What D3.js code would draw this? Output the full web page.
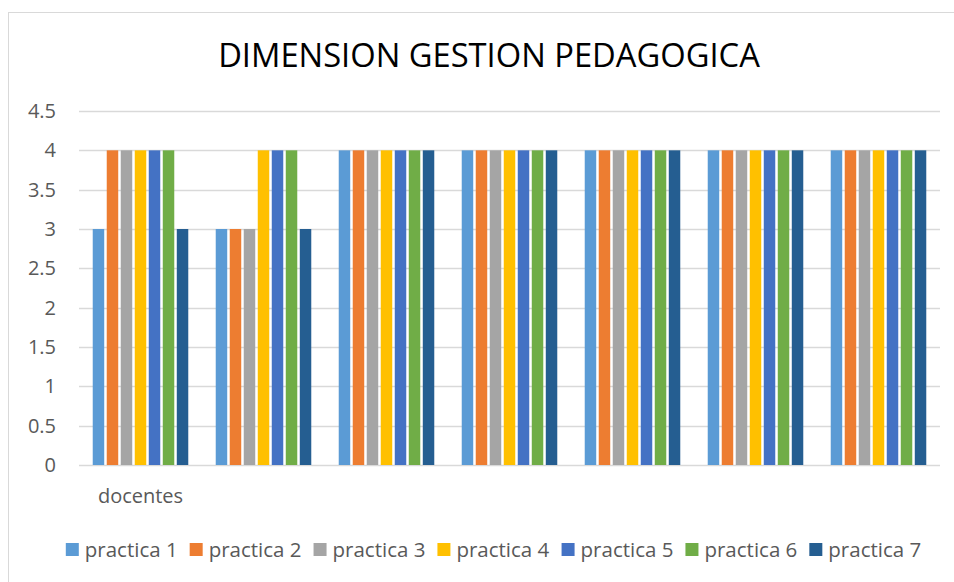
<!DOCTYPE html>
<html>
<head>
<meta charset="utf-8">
<script src="https://cdn.jsdelivr.net/npm/d3@7"></script>
<style>
  html, body { margin: 0; padding: 0; background: #fff; }
  svg { display: block; }
</style>
</head>
<body>
<svg id="chart" width="954" height="582"></svg>
<script>
// ---- data ----
const title = "DIMENSION GESTION PEDAGOGICA";
const categories = ["docentes", "", "", "", "", "", ""];
const seriesNames = ["practica 1", "practica 2", "practica 3", "practica 4", "practica 5", "practica 6", "practica 7"];
const practica1 = [3, 3, 4, 4, 4, 4, 4];
const practica2 = [4, 3, 4, 4, 4, 4, 4];
const practica3 = [4, 3, 4, 4, 4, 4, 4];
const practica4 = [4, 4, 4, 4, 4, 4, 4];
const practica5 = [4, 4, 4, 4, 4, 4, 4];
const practica6 = [4, 4, 4, 4, 4, 4, 4];
const practica7 = [3, 3, 4, 4, 4, 4, 4];
const seriesValues = [practica1, practica2, practica3, practica4, practica5, practica6, practica7];
const colors = ["#5B9BD5", "#ED7D31", "#A5A5A5", "#FFC000", "#4472C4", "#70AD47", "#255E91"];
const yTicks = [0, 0.5, 1, 1.5, 2, 2.5, 3, 3.5, 4, 4.5];

// ---- layout ----
const svg = d3.select("#chart");
const font = "'Open Sans', 'DejaVu Sans', sans-serif";
const textColor = "#595959";
const plot = { left: 79, right: 940, top: 111, bottom: 465 };

// chart border
svg.append("rect")
  .attr("x", 8.5).attr("y", 12.5)
  .attr("width", 1000).attr("height", 1000)
  .attr("fill", "#fff").attr("stroke", "#d9d9d9").attr("stroke-width", 1);

// title
svg.append("text")
  .attr("x", 489).attr("y", 67)
  .attr("text-anchor", "middle")
  .attr("font-family", font).attr("font-size", 32.7)
  .attr("fill", "#000")
  .text(title);

const y = d3.scaleLinear().domain([0, 4.5]).range([plot.bottom, plot.top]);
const x0 = d3.scaleBand().domain(d3.range(categories.length)).range([plot.left, plot.right]).padding(0);
const x1 = d3.scaleBand().domain(d3.range(seriesNames.length)).range([0, x0.bandwidth()])
  .paddingInner(0.18).paddingOuter(0.98);

// gridlines
svg.append("g").selectAll("line").data(yTicks).join("line")
  .attr("x1", plot.left).attr("x2", plot.right)
  .attr("y1", d => Math.round(y(d)) + 0.5).attr("y2", d => Math.round(y(d)) + 0.5)
  .attr("stroke", "#d9d9d9").attr("stroke-width", 1.3);

// y axis
const yAxis = svg.append("g")
  .attr("transform", `translate(${plot.left - 23},0)`)
  .call(d3.axisLeft(y).tickValues(yTicks).tickSize(0).tickPadding(0).tickFormat(d3.format("")));
yAxis.select(".domain").remove();
yAxis.selectAll("text")
  .attr("font-family", font).attr("font-size", 20).attr("fill", textColor);

// bars
const groups = svg.append("g").selectAll("g").data(categories.map((c, i) => i)).join("g")
  .attr("transform", i => `translate(${x0(i)},0)`);
groups.selectAll("rect")
  .data(i => seriesValues.map((vals, s) => ({ s, v: vals[i] })))
  .join("rect")
  .attr("x", d => x1(d.s))
  .attr("width", x1.bandwidth())
  .attr("y", d => y(d.v))
  .attr("height", d => y(0) - y(d.v))
  .attr("fill", d => colors[d.s]);

// x axis (category labels)
const xAxis = svg.append("g")
  .attr("transform", `translate(0,${plot.bottom})`)
  .call(d3.axisBottom(x0).tickSize(0).tickPadding(24).tickFormat(i => categories[i]));
xAxis.select(".domain").remove();
xAxis.selectAll("text")
  .attr("font-family", font).attr("font-size", 20).attr("fill", textColor);

// legend
const legend = svg.append("g");
const items = legend.selectAll("g").data(seriesNames).join("g");
items.append("rect")
  .attr("width", 13).attr("height", 13)
  .attr("y", -14)
  .attr("fill", (d, i) => colors[i]);
items.append("text")
  .attr("x", 19).attr("y", 0)
  .attr("font-family", font).attr("font-size", 20.5).attr("fill", textColor)
  .text(d => d);
let cx = 0;
const gap = 12;
items.each(function() {
  const w = this.getBBox().width;
  d3.select(this).attr("transform", `translate(${cx},557)`);
  cx += w + gap;
});
const totalW = cx - gap;
legend.attr("transform", `translate(${493.5 - totalW / 2},0)`);
</script>
</body>
</html>
